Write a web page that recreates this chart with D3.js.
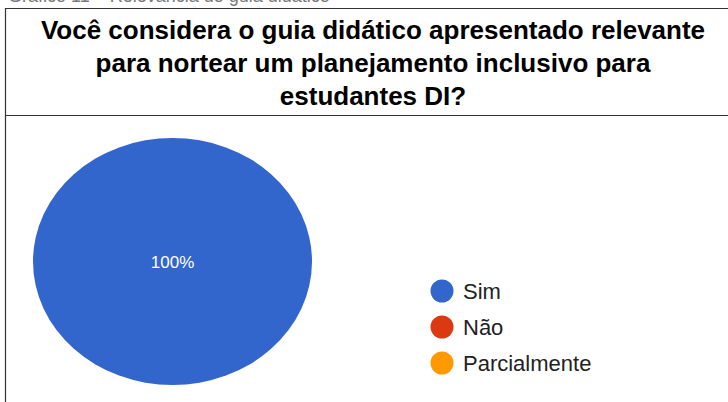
<!DOCTYPE html>
<html>
<head>
<meta charset="utf-8">
<script src="https://cdn.jsdelivr.net/npm/d3@7"></script>
<style>
  body { margin: 0; background: #fff; }
  svg { display: block; font-family: "Liberation Sans", Arial, sans-serif; }
</style>
</head>
<body>
<div id="chart"></div>
<script>
// data
var categories = ["Sim", "Não", "Parcialmente"];
var values = [100, 0, 0];
var colors = ["#3366cc", "#dc3912", "#ff9900"];
var titleLines = [
  "Você considera o guia didático apresentado relevante",
  "para nortear um planejamento inclusivo para",
  "estudantes DI?"
];
var captionText = "Gráfico 11 – Relevância do guia didático";

var svgWidth = 728;
var svgHeight = 402;

var svg = d3.select("#chart")
  .append("svg")
  .attr("width", svgWidth)
  .attr("height", svgHeight);

// caption line above the box, cut off by the top edge as in the source
svg.append("text")
  .attr("x", 8)
  .attr("y", 2)
  .attr("font-size", 18)
  .attr("fill", "#777")
  .text(captionText);

// box lines
var box = svg.append("g")
  .attr("stroke", "#333")
  .attr("stroke-width", 1.2);
box.append("line").attr("x1", 5).attr("x2", svgWidth).attr("y1", 8.5).attr("y2", 8.5);
box.append("line").attr("x1", 5).attr("x2", svgWidth).attr("y1", 115.5).attr("y2", 115.5);
box.append("line").attr("x1", 5.5).attr("x2", 5.5).attr("y1", 8).attr("y2", svgHeight);

// title
svg.append("g")
  .selectAll("text")
  .data(titleLines)
  .enter()
  .append("text")
  .attr("x", 373)
  .attr("y", (d, i) => 39 + i * 33)
  .attr("text-anchor", "middle")
  .attr("font-size", 26)
  .attr("font-weight", "bold")
  .attr("fill", "#000")
  .text(d => d);

// pie (drawn as a circle, stretched to the ellipse of the picture)
var cx = 172.5, cy = 261.5, rx = 139.5, ry = 123.5;

var pie = d3.pie().sort(null);
var arcs = pie(values);
var arc = d3.arc().innerRadius(0).outerRadius(ry);

var pieGroup = svg.append("g")
  .attr("transform", `translate(${cx}, ${cy})`);

pieGroup.append("g")
  .attr("transform", `scale(${rx / ry}, 1)`)
  .selectAll("path")
  .data(arcs)
  .enter()
  .append("path")
  .attr("d", arc)
  .attr("fill", (d, i) => colors[i]);

var total = d3.sum(values);
pieGroup.selectAll(".lbl")
  .data(arcs.filter(d => d.value > 0))
  .enter()
  .append("text")
  .attr("class", "lbl")
  .attr("transform", function(d) {
    if (d.value === total) return "translate(0, 0)";
    var c = d3.arc().innerRadius(ry * 0.6).outerRadius(ry * 0.6).centroid(d);
    return `translate(${c[0] * rx / ry}, ${c[1]})`;
  })
  .attr("dy", 6)
  .attr("text-anchor", "middle")
  .attr("font-size", 17)
  .attr("fill", "#fff")
  .text(d => Math.round(d.value / total * 100) + "%");

// legend
var legend = svg.append("g")
  .selectAll("g")
  .data(categories)
  .enter()
  .append("g")
  .attr("transform", (d, i) => `translate(442, ${291 + i * 36})`);

legend.append("circle")
  .attr("r", 11.5)
  .attr("fill", (d, i) => colors[i]);

legend.append("text")
  .attr("x", 21)
  .attr("y", 8)
  .attr("font-size", 22)
  .attr("fill", "#222")
  .text(d => d);
</script>
</body>
</html>
